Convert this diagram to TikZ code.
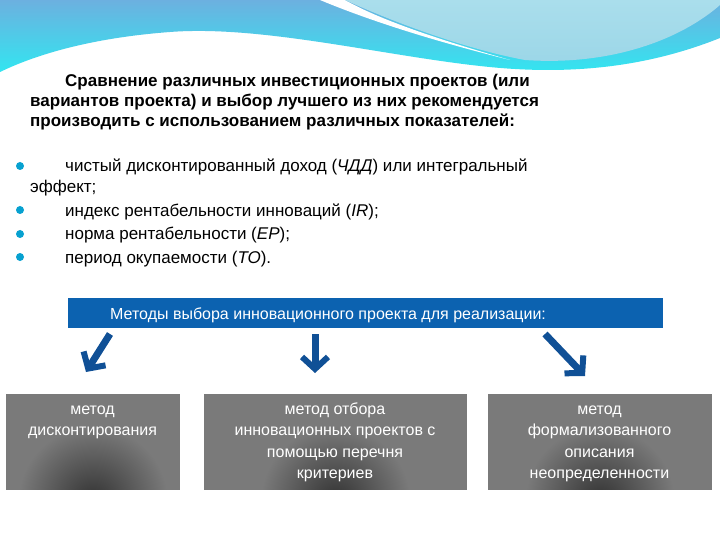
\documentclass[tikz,border=0pt]{standalone}
\usepackage{fontspec}
\setmainfont{Liberation Sans}
\usetikzlibrary{arrows.meta}
\definecolor{bannerblue}{RGB}{12,98,176}
\definecolor{arrowblue}{RGB}{16,80,150}
\definecolor{wave}{RGB}{120,196,220}
\definecolor{wavelight}{RGB}{170,222,236}
\tikzset{
  mbox/.style={draw=white,line width=0.8pt,fill=black!52,anchor=north west,inner sep=0pt},
  mtext/.style={anchor=north,text=white,align=center,font=\fontsize{16}{21.5}\selectfont,inner sep=0pt},
  fat/.style={draw=arrowblue,line width=7pt,-{Straight Barb[length=12pt,width=26pt,line width=6pt]}},
  txt/.style={anchor=base west,inner sep=0pt,font=\fontsize{17}{20}\selectfont},
  btxt/.style={txt,font=\fontsize{17}{20}\selectfont\bfseries},
  bul/.style={circle,fill=bannerblue!60!cyan,inner sep=0pt,minimum size=8pt}
}
\newcommand{\darkspot}[1]{\begin{scope}\clip (#1.south west) rectangle (#1.north east);
\shade[inner color=black!80,outer color=black!52] ([yshift=-10pt]#1.south) circle (75pt);\end{scope}
\draw[white,line width=0.8pt] (#1.south west) rectangle (#1.north east);}
\newcommand{\topstrut}{\rule{0pt}{12pt}}
\begin{document}
\begin{tikzpicture}[x=1pt,y=-1pt]
\useasboundingbox (0,0) rectangle (720,540);
\fill[white] (0,0) rectangle (720,540);
% top wave
\shade[top color=wave!90!blue,bottom color=cyan!60!wave] (0,0) -- (720,0) -- (720,38) .. controls (640,70) and (560,75) .. (480,66) .. controls (380,55) and (260,25) .. (170,32) .. controls (90,38) and (35,55) .. (0,72) -- cycle;
\fill[white] (320,0) .. controls (380,25) and (450,45) .. (510,60) .. controls (440,40) and (380,20) .. (345,0) -- cycle;
\shade[top color=wavelight,bottom color=wavelight!70!wave] (345,0) .. controls (400,25) and (470,50) .. (525,60) .. controls (610,66) and (680,40) .. (720,5) -- (720,0) -- cycle;
% title
\node[btxt] (t1) at (65,87) {Сравнение различных инвестиционных проектов (или};
\node[btxt] (t2) at (30,107) {вариантов проекта) и выбор лучшего из них рекомендуется};
\node[btxt] (t3) at (30,127) {производить с использованием различных показателей:};
% bullets
\node[bul] (b1) at (20,166) {};
\node[txt] (l1) at (65,172) {чистый дисконтированный доход (\textit{ЧДД}) или интегральный};
\node[txt] (l1b) at (30,193) {эффект;};
\node[bul] (b2) at (20,210) {};
\node[txt] (l2) at (65,216) {индекс рентабельности инноваций (\textit{IR});};
\node[bul] (b3) at (20,234) {};
\node[txt] (l3) at (65,240) {норма рентабельности (\textit{ЕР});};
\node[bul] (b4) at (20,257) {};
\node[txt] (l4) at (65,263) {период окупаемости (\textit{ТО}).};
% banner
\node[fill=bannerblue,draw=white,line width=0.8pt,minimum width=596pt,minimum height=31pt,anchor=north west,inner sep=0pt] (ban) at (67,297) {};
\node[text=white,anchor=base west,inner sep=0pt,font=\fontsize{16}{18}\selectfont] (bant) at (110,319) {Методы выбора инновационного проекта для реализации:};
% boxes
\node[mbox,minimum width=175pt,minimum height=97pt] (m1) at (5,393) {};
\node[mbox,minimum width=264pt,minimum height=97pt] (m2) at (203,393) {};
\node[mbox,minimum width=225pt,minimum height=97pt] (m3) at (487,393) {};
\darkspot{m1}\darkspot{m2}\darkspot{m3}
\node[mtext] (m1t) at (92.5,402) {\topstrut метод\\дисконтирования};
\node[mtext] (m2t) at (335,402) {\topstrut метод отбора\\инновационных проектов с\\помощью перечня\\критериев};
\node[mtext] (m3t) at (599.5,402) {\topstrut метод\\формализованного\\описания\\неопределенности};
% arrows
\coordinate (a1s) at (110,334); \coordinate (a1e) at (86,372);
\coordinate (a2s) at (315,334); \coordinate (a2e) at (315,373);
\coordinate (a3s) at (545,334); \coordinate (a3e) at (585,376);
\draw[fat] (a1s) -- (a1e);
\draw[fat] (a2s) -- (a2e);
\draw[fat] (a3s) -- (a3e);
\end{tikzpicture}
\end{document}
